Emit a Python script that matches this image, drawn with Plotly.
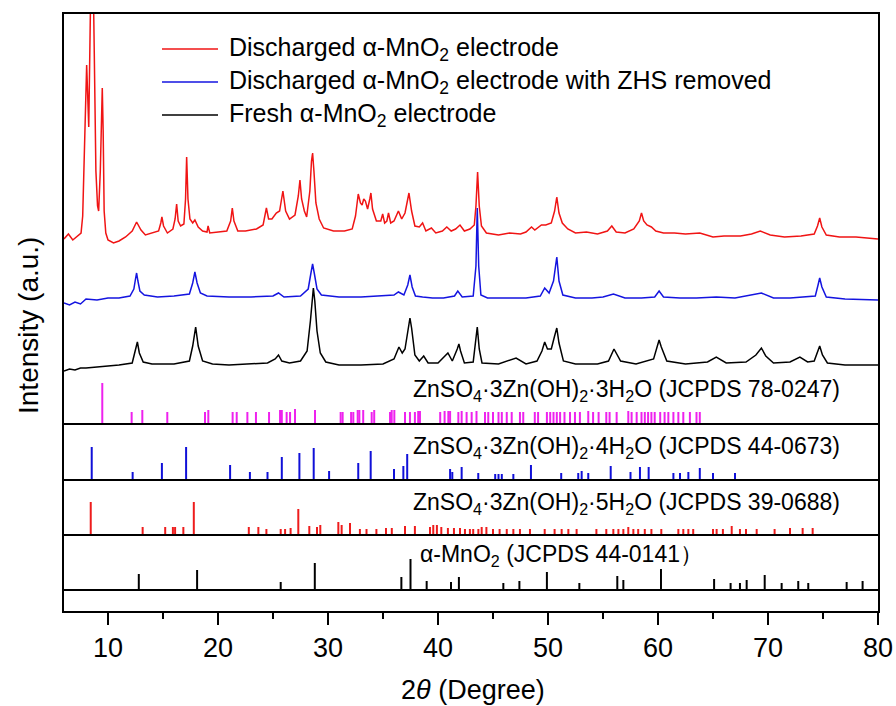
import plotly.graph_objects as go

# ---------------- data (2theta in degrees, intensity in a.u.) ----------------
red_x = [6.0, 6.4, 6.8, 7.2, 7.55, 7.7, 7.85, 7.98, 8.06, 8.14, 8.25, 8.4, 8.5, 8.62, 8.75, 8.9, 9.05, 9.15,
         9.3, 9.42, 9.48, 9.56, 9.65, 9.8, 10.0, 10.5, 11.0, 11.6, 12.2, 12.6, 13.0, 13.4, 14.0, 14.6, 14.8,
         14.9, 15.05, 15.4, 15.9, 16.1, 16.24, 16.38, 16.6, 16.9, 17.05, 17.15, 17.27, 17.45, 17.7, 17.9,
         18.2, 18.6, 19.0, 19.1, 19.25, 20.0, 20.8, 21.15, 21.3, 21.45, 21.8, 22.5, 23.5, 24.1, 24.4, 24.6,
         24.9, 25.3, 25.6, 25.9, 26.15, 26.5, 27.0, 27.3, 27.45, 27.6, 27.85, 28.06, 28.35, 28.5, 28.6,
         28.72, 28.9, 29.2, 29.6, 30.5, 31.5, 32.2, 32.5, 32.75, 32.95, 33.1, 33.25, 33.4, 33.6, 33.8, 33.9,
         34.05, 34.4, 34.8, 34.97, 35.15, 35.35, 35.5, 35.7, 36.0, 36.4, 36.7, 37.0, 37.36, 37.6, 37.9,
         38.3, 38.6, 38.9, 39.4, 39.8, 40.4, 40.8, 41.2, 41.6, 42.0, 42.4, 42.9, 43.3, 43.45, 43.6, 43.75,
         43.95, 44.4, 45.5, 46.5, 47.5, 48.0, 48.5, 48.8, 49.4, 49.8, 50.3, 50.6, 50.8, 51.0, 51.3, 51.8,
         52.5, 53.5, 54.5, 55.4, 55.8, 56.2, 57.0, 57.8, 58.3, 58.5, 58.7, 59.0, 59.4, 59.8, 60.5, 61.5,
         62.5, 63.8, 65.0, 66.0, 67.5, 68.5, 69.3, 70.2, 71.5, 73.0, 74.2, 74.5, 74.7, 74.9, 75.3, 76.5,
         78.0, 79.0, 80.0]
red_y = [372, 377, 371, 375, 378, 395, 470, 530, 546, 520, 484, 600, 660, 660, 560, 440, 405, 400,
         440, 515, 523, 480, 400, 378, 371, 368, 370, 374, 380, 389, 381, 376, 378, 380, 388,
         394, 385, 378, 382, 392, 407, 390, 385, 387, 412, 454, 412, 392, 388, 391,
         384, 380, 379, 385, 378, 379, 380, 390, 403, 390, 380, 380, 382, 386, 403, 392,
         392, 398, 400, 420, 400, 392, 396, 415, 431, 412, 400, 394, 420, 450, 458,
         440, 408, 392, 383, 380, 380, 382, 395, 417, 408, 406, 412, 410, 402, 412, 418,
         402, 390, 390, 397, 388, 390, 398, 388, 390, 400, 392, 398, 418, 400, 385,
         384, 388, 380, 383, 378, 380, 384, 380, 382, 386, 380, 382, 386, 405, 439, 405,
         385, 378, 376, 378, 377, 379, 384, 381, 386, 386, 388, 400, 414, 398, 388, 382,
         378, 379, 377, 380, 385, 379, 378, 382, 390, 398, 390, 386, 384, 380, 378, 378,
         377, 378, 374, 375, 375, 377, 380, 376, 374, 375, 377, 385, 393, 384, 376, 374,
         374, 373, 372]

blue_x = [6.0, 6.5, 7.0, 7.5, 8.0, 9.0, 10.0, 11.0, 12.0, 12.35, 12.5, 12.6, 12.72, 12.9, 13.3, 14.5, 16.0,
          17.4, 17.7, 17.9, 18.1, 18.4, 19.0, 21.0, 23.0, 25.0, 25.5, 26.0, 27.5, 28.2, 28.45, 28.6, 28.75,
          29.0, 29.4, 31.0, 33.0, 35.0, 36.0, 36.4, 36.9, 37.25, 37.45, 37.65, 37.95, 38.6, 39.5, 40.5,
          41.5, 41.8, 42.2, 43.2, 43.45, 43.57, 43.7, 43.9, 44.5, 46.0, 48.0, 49.3, 49.7, 50.1, 50.5, 50.8,
          51.0, 51.35, 52.5, 54.0, 55.0, 55.95, 57.0, 58.5, 59.7, 60.1, 60.5, 62.0, 63.5, 65.3, 67.0, 69.4,
          70.5, 72.0, 74.3, 74.55, 74.7, 74.9, 75.3, 77.0, 80.0]
blue_y = [308, 306, 309, 307, 312, 311, 313, 313, 315, 322, 332, 338, 330, 320, 316, 314, 315,
          317, 328, 339, 328, 318, 315, 314, 314, 315, 318, 314, 315, 322, 338, 347, 338,
          322, 316, 314, 314, 315, 316, 319, 316, 326, 336, 324, 315, 314, 313, 313,
          315, 320, 314, 315, 345, 403, 345, 316, 313, 313, 313, 315, 323, 318, 330, 354,
          330, 316, 313, 313, 314, 317, 313, 313, 314, 320, 314, 313, 313, 314, 313, 318,
          313, 313, 315, 326, 333, 324, 314, 312, 311]

black_x = [6.0, 6.5, 7.0, 7.5, 8.0, 9.0, 10.0, 11.0, 12.2, 12.45, 12.67, 12.85, 13.2, 14.0, 16.0, 17.4,
           17.7, 17.97, 18.2, 18.6, 19.5, 21.0, 23.0, 24.5, 25.2, 25.5, 25.8, 26.5, 27.5, 28.1, 28.4, 28.6,
           28.67, 28.8, 29.0, 29.3, 29.8, 31.0, 33.0, 35.0, 36.0, 36.45, 36.75, 37.0, 37.3, 37.45, 37.6,
           37.9, 38.3, 38.7, 39.1, 40.0, 40.9, 41.3, 41.75, 41.9, 42.05, 42.4, 43.2, 43.4, 43.57, 43.75,
           44.0, 45.5, 47.1, 48.0, 49.0, 49.45, 49.7, 49.95, 50.3, 50.6, 50.8, 51.0, 51.4, 52.5, 54.5,
           55.5, 56.0, 56.6, 58.0, 59.6, 59.95, 60.1, 60.3, 60.8, 62.5, 64.5, 65.3, 66.2, 68.0, 68.9, 69.4,
           69.8, 70.5, 72.0, 72.9, 73.6, 74.2, 74.5, 74.7, 74.95, 75.4, 77.0, 80.0]
black_y = [240, 242, 241, 243, 243, 244, 245, 246, 248, 258, 269, 258, 249, 247, 247, 250,
           265, 284, 265, 250, 247, 246, 247, 248, 252, 256, 250, 248, 250, 260, 290, 320,
           323, 310, 280, 258, 249, 246, 246, 247, 252, 264, 258, 262, 285, 293, 283,
           256, 250, 255, 248, 248, 258, 250, 262, 267, 260, 248, 249, 265, 284, 262,
           248, 247, 253, 247, 250, 260, 269, 262, 262, 275, 283, 268, 250, 247, 247,
           250, 262, 250, 247, 252, 266, 271, 264, 250, 247, 249, 254, 248, 249, 256, 263,
           255, 248, 249, 254, 249, 250, 260, 265, 256, 248, 246, 246]

# reference stick patterns: positions and relative heights
zhs3_pos = [9.48, 12.15, 13.12, 15.39, 18.82, 19.12, 21.33, 21.7, 22.67, 23.45, 24.64, 25.64, 25.8, 26.24,
            26.55, 27.0, 28.82, 31.15, 31.33, 32.1, 32.3, 32.7, 32.85, 33.2, 33.97, 34.2, 35.64, 35.79,
            36.03, 37.0, 37.45, 37.9, 38.2, 38.36, 40.2, 40.6, 40.94, 41.1, 41.85, 42.15, 42.6, 43.06,
            43.5, 44.27, 44.57, 45.0, 45.5, 45.8, 46.25, 46.7, 47.45, 47.75, 48.8, 49.1, 49.9, 50.2,
            50.5, 50.8, 51.1, 51.5, 52.0, 52.45, 52.9, 53.66, 54.1, 54.6, 55.3, 55.6, 56.24, 57.3, 57.6,
            58.06, 58.5, 58.8, 59.1, 59.4, 59.7, 60.2, 60.6, 60.94, 61.4, 61.85, 62.3, 62.9, 63.5, 63.8]
zhs3_h = [41, 12, 14, 12, 12, 14, 12, 12, 12, 12, 12, 14, 14, 12,
          12, 15, 14, 12, 12, 12, 12, 14, 14, 14, 12, 14, 12, 14,
          14, 12, 12, 12, 13, 13, 12, 13, 13, 13, 12, 13, 12, 12,
          13, 12, 12, 12, 12, 12, 12, 12, 12, 12, 12, 12, 12, 12,
          12, 12, 12, 12, 12, 12, 12, 13, 12, 12, 12, 12, 12, 13, 12,
          12, 12, 12, 12, 12, 12, 12, 12, 12, 12, 12, 12, 12, 12, 12]

zhs4_pos = [8.52, 12.24, 14.9, 17.1, 21.1, 22.9, 24.5, 25.8, 27.4, 28.7, 30.1, 32.75, 33.88, 36.0, 36.85,
            37.2, 41.1, 41.3, 42.15, 43.66, 45.2, 45.5, 45.8, 46.85, 48.45, 51.2, 52.75, 53.06, 53.66,
            55.7, 57.5, 58.36, 59.15, 61.4, 62.0, 62.76, 63.8, 65.0, 67.0]
zhs4_h = [33, 8, 17, 33, 15, 8, 8, 23, 27, 32, 9, 17, 29, 11, 14,
          26, 11, 8, 13, 7, 6, 6, 6, 6, 15, 7, 7, 9, 7,
          14, 8, 13, 13, 7, 7, 8, 12, 7, 7]

zhs5_pos = [8.43, 13.15, 15.2, 15.9, 16.1, 16.85, 17.8, 22.8, 23.67, 24.4, 25.7, 26.1, 26.6, 27.3, 28.3,
            29.0, 29.3, 30.94, 31.24, 32.0, 32.9, 33.5, 34.4, 35.27, 35.8, 37.0, 37.9, 39.27, 39.57, 39.9,
            40.3, 40.9, 41.45, 42.0, 42.45, 42.9, 43.2, 43.67, 43.97, 44.4, 45.0, 45.6, 46.25, 46.85,
            47.45, 48.36, 49.7, 50.6, 51.24, 51.85, 52.6, 54.4, 55.3, 55.94, 56.4, 56.85, 57.3, 57.76,
            58.2, 58.8, 59.4, 60.3, 61.85, 62.3, 62.76, 63.2, 65.0, 65.33, 65.9, 66.7, 67.45, 68.0,
            68.97, 70.6, 72.0, 73.15, 74.06]
zhs5_h = [33, 8, 8, 8, 8, 8, 33, 8, 8, 6, 6, 6, 7, 26, 9,
          8, 10, 13, 10, 12, 6, 6, 6, 7, 7, 9, 9, 8, 10, 10,
          8, 7, 7, 7, 6, 6, 6, 6, 8, 8, 6, 6, 6, 6,
          6, 6, 6, 6, 6, 6, 6, 6, 6, 6, 6, 6, 8, 6,
          6, 6, 6, 6, 6, 6, 6, 6, 6, 6, 6, 9, 6, 6,
          6, 6, 7, 7, 7]

mno2_pos = [12.8, 18.1, 25.7, 28.8, 36.67, 37.5, 38.97, 41.18, 41.9, 45.94, 47.4, 49.9, 52.85, 56.3,
            56.85, 60.27, 65.1, 66.6, 67.45, 68.06, 69.7, 71.24, 72.75, 73.66, 77.15, 78.6]
mno2_h = [16, 20, 8, 27, 13, 31, 9, 8, 13, 7, 9, 18, 7, 14,
          10, 21, 11, 7, 7, 10, 15, 7, 9, 7, 8, 9]

legend_names = ["Discharged α-MnO<sub>2</sub> electrode",
                "Discharged α-MnO<sub>2</sub> electrode with ZHS removed",
                "Fresh α-MnO<sub>2</sub> electrode"]
stick_labels = ["ZnSO<sub>4</sub>·3Zn(OH)<sub>2</sub>·3H<sub>2</sub>O (JCPDS 78-0247)",
                "ZnSO<sub>4</sub>·3Zn(OH)<sub>2</sub>·4H<sub>2</sub>O (JCPDS 44-0673)",
                "ZnSO<sub>4</sub>·3Zn(OH)<sub>2</sub>·5H<sub>2</sub>O (JCPDS 39-0688)",
                "α-MnO<sub>2</sub> (JCPDS 44-0141）"]
x_ticks = [10, 20, 30, 40, 50, 60, 70, 80]

# ---------------- layout geometry (pixels of the 896x706 canvas) ----------------
L, R, T, B = 64, 878, 14, 611
W, H = R - L, B - T
FONT = "Arial, Liberation Sans, sans-serif"


def px(xp):
    return (xp - L) / W


def py(yp):
    return (B - yp) / H


YMAX = H  # y data units == pixels above the bottom frame
panel_bases = [187, 131, 76, 21]      # baselines of stick panels (data units)
divider_y = [187, 131, 76, 21]
stick_colors = ["#ee22ee", "#1010d8", "#ee1c1c", "#000000"]
curve_colors = ["#f01414", "#1414e0", "#000000"]

fig = go.Figure()

for xs, ys, c in [(black_x, black_y, curve_colors[2]), (blue_x, blue_y, curve_colors[1]),
                  (red_x, red_y, curve_colors[0])]:
    fig.add_trace(go.Scatter(x=xs, y=ys, mode="lines", line=dict(color=c, width=1.5),
                             showlegend=False, hoverinfo="skip"))

for pos, hts, base, c in [(zhs3_pos, zhs3_h, panel_bases[0], stick_colors[0]),
                          (zhs4_pos, zhs4_h, panel_bases[1], stick_colors[1]),
                          (zhs5_pos, zhs5_h, panel_bases[2], stick_colors[2]),
                          (mno2_pos, mno2_h, panel_bases[3], stick_colors[3])]:
    sx, sy = [], []
    for p, h in zip(pos, hts):
        sx += [p, p, None]
        sy += [base, base + h, None]
    fig.add_trace(go.Scatter(x=sx, y=sy, mode="lines", line=dict(color=c, width=2),
                             showlegend=False, hoverinfo="skip"))

shapes = []
for yv in divider_y:
    shapes.append(dict(type="line", xref="paper", yref="y", x0=0, x1=1, y0=yv, y1=yv,
                       line=dict(color="black", width=2)))

annotations = []
for i, (name, c) in enumerate(zip(legend_names, curve_colors)):
    yp = 49 + 33 * i
    shapes.append(dict(type="line", xref="paper", yref="paper", x0=px(162), x1=px(218),
                       y0=py(yp), y1=py(yp), line=dict(color=c, width=1.3)))
    annotations.append(dict(text=name, xref="paper", yref="paper", x=px(227), y=py(yp),
                            xanchor="left", yanchor="middle", showarrow=False,
                            font=dict(family=FONT, size=25, color="black")))

label_y = [221, 164, 108]
for txt, yv in zip(stick_labels[:3], label_y):
    annotations.append(dict(text=txt, xref="paper", yref="y", x=px(842), y=yv,
                            xanchor="right", yanchor="middle", showarrow=False,
                            font=dict(family=FONT, size=23, color="black")))
annotations.append(dict(text=stick_labels[3], xref="paper", yref="y", x=px(418), y=56,
                        xanchor="left", yanchor="middle", showarrow=False,
                        font=dict(family=FONT, size=23, color="black")))

annotations.append(dict(text="Intensity (a.u.)", xref="paper", yref="paper", x=px(28), y=py(326),
                        xanchor="center", yanchor="middle", textangle=-90, showarrow=False,
                        font=dict(family=FONT, size=28, color="black")))
annotations.append(dict(text="2<i>θ</i> (Degree)", xref="paper", yref="paper", x=px(473), y=py(690),
                        xanchor="center", yanchor="middle", showarrow=False,
                        font=dict(family=FONT, size=27, color="black")))

fig.update_layout(
    width=896, height=706,
    margin=dict(l=L, r=896 - R, t=T, b=706 - B, pad=0),
    paper_bgcolor="white", plot_bgcolor="white",
    shapes=shapes, annotations=annotations,
    showlegend=False,
    xaxis=dict(range=[6, 80], tickvals=x_ticks, ticktext=[str(v) for v in x_ticks],
               ticks="outside", ticklen=12, tickwidth=2, tickcolor="black",
               minor=dict(ticks="outside", ticklen=6, tickwidth=2, tickcolor="black", dtick=5, tick0=5),
               showline=True, linecolor="black", linewidth=2, mirror=True,
               showgrid=False, zeroline=False, automargin=False,
               tickfont=dict(family=FONT, size=27, color="black")),
    yaxis=dict(range=[0, YMAX], showticklabels=False, ticks="",
               showline=True, linecolor="black", linewidth=2, mirror=True,
               showgrid=False, zeroline=False, automargin=False),
)

fig.write_html("out.html")
